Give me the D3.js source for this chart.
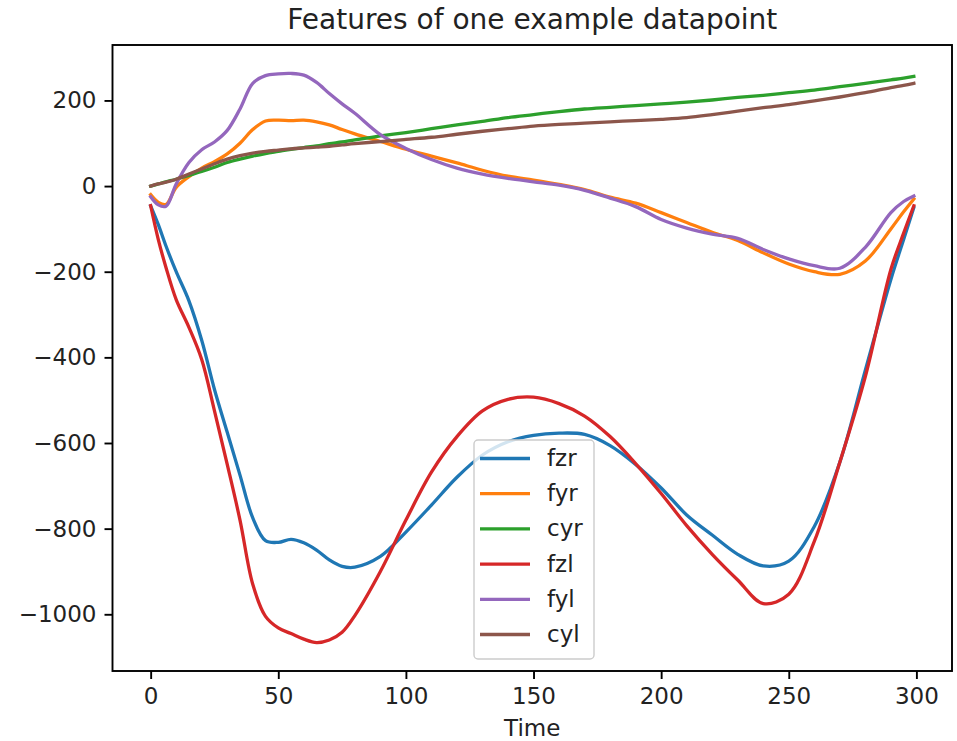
<!DOCTYPE html>
<html>
<head>
<meta charset="utf-8">
<script src="https://cdn.jsdelivr.net/npm/d3@7"></script>
<style>
  body { margin: 0; background: #fff; }
  svg { font-family: "DejaVu Sans", sans-serif; }
</style>
</head>
<body>
<svg width="957" height="741"></svg>
<script>
// sample times (x values) shared by every series
const time = [0, 3, 6, 10, 15, 20, 25, 30, 35, 40, 45, 50, 55, 60, 65, 70, 75, 80, 90, 100,
  110, 120, 130, 140, 150, 160, 170, 180, 190, 200, 210, 220, 230, 240, 250, 260, 270, 280, 290, 295, 299];

const seriesNames = ["fzr", "fyr", "cyr", "fzl", "fyl", "cyl"];

const fzr = [-46, -90, -140, -200, -268, -360, -475, -575, -675, -775, -828, -832, -825, -833, -850, -873, -888, -890, -865, -808,
  -745, -680, -628, -597, -582, -577, -580, -606, -650, -705, -768, -815, -860, -887, -876, -795, -645, -430, -218, -125, -50];
const fyr = [-20, -38, -43, -3, 22, 42, 57, 75, 100, 132, 152, 154, 153, 154, 150, 143, 132, 122, 104, 86,
  70, 54, 37, 23, 14, 4, -8, -26, -40, -62, -85, -108, -127, -156, -182, -200, -206, -175, -100, -60, -30];
const cyr = [0, 5, 10, 16, 25, 34, 44, 55, 63, 70, 76, 81, 86, 90, 94, 99, 103, 108, 117, 125,
  134, 143, 151, 160, 167, 174, 180, 184, 188, 192, 196, 201, 207, 212, 218, 224, 232, 240, 248, 252, 256];
const fzl = [-46, -125, -190, -265, -330, -405, -525, -650, -780, -930, -1005, -1032, -1045, -1058, -1066, -1060, -1042, -1003, -900, -780,
  -668, -585, -525, -498, -493, -508, -537, -585, -648, -718, -793, -860, -920, -975, -953, -830, -645, -445, -195, -110, -46];
const fyl = [-25, -44, -47, 5, 55, 85, 103, 130, 180, 240, 258, 262, 263, 259, 242, 216, 192, 170, 120, 88,
  62, 42, 28, 18, 10, 2, -10, -28, -48, -78, -98, -112, -122, -148, -170, -186, -192, -143, -62, -36, -23];
const cyl = [0, 5, 9, 16, 28, 40, 52, 63, 71, 77, 81, 84, 87, 89, 91, 93, 96, 99, 104, 109,
  114, 121, 128, 134, 140, 144, 147, 150, 153, 156, 160, 167, 175, 183, 190, 199, 208, 218, 230, 235, 240];

const xTicks = [0, 50, 100, 150, 200, 250, 300];
const yTicks = [-1000, -800, -600, -400, -200, 0, 200];

const colors = ["#1f77b4", "#ff7f0e", "#2ca02c", "#d62728", "#9467bd", "#8c564b"];
const allSeries = [fzr, fyr, cyr, fzl, fyl, cyl];

const W = 957, H = 741;
const margin = {top: 45, right: 5, bottom: 70, left: 112.5};
const pw = W - margin.left - margin.right;
const ph = H - margin.top - margin.bottom;

const svg = d3.select("svg");
const g = svg.append("g").attr("transform", `translate(${margin.left},${margin.top})`);

// matplotlib style 5% margins
const xmin = d3.min(time), xmax = d3.max(time);
const ymin = d3.min(allSeries, s => d3.min(s)), ymax = d3.max(allSeries, s => d3.max(s));
const xpad = (xmax - xmin) * 0.05, ypad = (ymax - ymin) * 0.05;

const x = d3.scaleLinear().domain([xmin - xpad, xmax + xpad]).range([0, pw]);
const y = d3.scaleLinear().domain([ymin - ypad, ymax + ypad]).range([ph, 0]);

const line = d3.line()
  .x((d, i) => x(time[i]))
  .y(d => y(d))
  .curve(d3.curveCatmullRom.alpha(0.5));

g.append("defs").append("clipPath").attr("id", "clip")
  .append("rect").attr("width", pw).attr("height", ph);

g.append("g").attr("clip-path", "url(#clip)")
  .selectAll("path")
  .data(allSeries)
  .enter()
  .append("path")
  .attr("d", line)
  .attr("fill", "none")
  .attr("stroke", (d, i) => colors[i])
  .attr("stroke-width", 3.3)
  .attr("stroke-linejoin", "round")
  .attr("stroke-linecap", "square");

// axes
const xAxis = g.append("g").attr("transform", `translate(0,${ph})`)
  .call(d3.axisBottom(x).tickValues(xTicks).tickSize(8).tickPadding(9).tickFormat(d3.format("d")));
const yAxis = g.append("g")
  .call(d3.axisLeft(y).tickValues(yTicks).tickSize(8).tickPadding(8).tickFormat(d => d < 0 ? "\u2212" + Math.abs(d) : d));

[xAxis, yAxis].forEach(a => {
  a.select(".domain").remove();
  a.selectAll("line").attr("stroke", "#000").attr("stroke-width", 1.9);
  a.selectAll("text").attr("fill", "#222").style("font-size", "23px").style("font-family", "DejaVu Sans");
});

g.append("rect")
  .attr("width", pw).attr("height", ph)
  .attr("fill", "none").attr("stroke", "#000").attr("stroke-width", 1.9);

// title and label
svg.append("text")
  .attr("x", margin.left + pw / 2).attr("y", 29)
  .attr("text-anchor", "middle")
  .style("font-size", "28px")
  .attr("fill", "#222")
  .text("Features of one example datapoint");

svg.append("text")
  .attr("x", margin.left + pw / 2).attr("y", 736)
  .attr("text-anchor", "middle")
  .style("font-size", "23px")
  .attr("fill", "#222")
  .text("Time");

// legend
const lg = svg.append("g").attr("transform", "translate(474,440)");
lg.append("rect")
  .attr("width", 120).attr("height", 219)
  .attr("rx", 4)
  .attr("fill", "rgba(255,255,255,0.8)")
  .attr("stroke", "#cccccc")
  .attr("stroke-width", 1.4);

const rows = lg.selectAll("g.row")
  .data(seriesNames)
  .enter()
  .append("g")
  .attr("class", "row")
  .attr("transform", (d, i) => `translate(0,${18.5 + i * 35.2})`);

rows.append("line")
  .attr("x1", 6).attr("x2", 56)
  .attr("stroke", (d, i) => colors[i])
  .attr("stroke-width", 3.3);

rows.append("text")
  .attr("x", 73).attr("dy", "0.33em")
  .style("font-size", "23px")
  .attr("fill", "#222")
  .text(d => d);
</script>
</body>
</html>
